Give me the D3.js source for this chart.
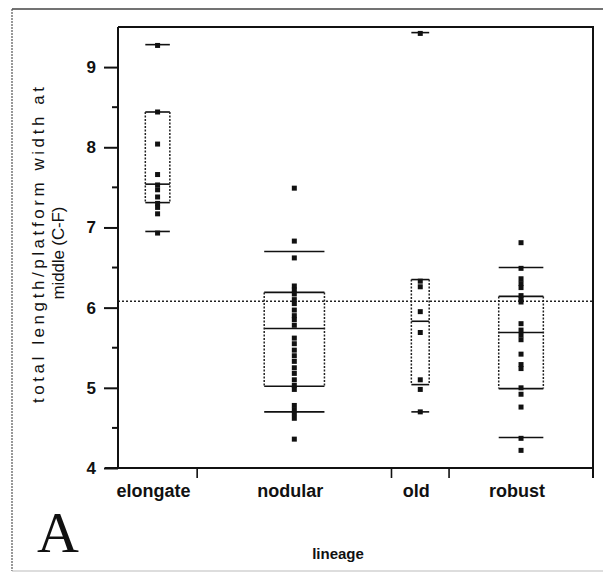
<!DOCTYPE html>
<html>
<head>
<meta charset="utf-8">
<script src="https://cdn.jsdelivr.net/npm/d3@7"></script>
<style>
  body { margin: 0; background: #fff; }
  text { font-family: "Liberation Sans", Arial, sans-serif; fill: #111; }
</style>
</head>
<body>
<div id="chart"></div>
<script>
const categories = ["elongate", "nodular", "old", "robust"]

// individual observations per lineage
const elongate = [9.27, 8.44, 8.04, 7.66, 7.53, 7.47, 7.38, 7.30, 7.25, 7.17, 6.93]
const nodular = [7.49, 6.83, 6.62, 6.27, 6.22, 6.17, 6.10, 6.05, 5.97, 5.90, 5.85, 5.78, 5.62, 5.55,
  5.47, 5.40, 5.33, 5.25, 5.18, 5.10, 5.03, 4.98, 4.78, 4.72, 4.68, 4.62, 4.36]
const old = [9.42, 6.33, 6.26, 5.95, 5.69, 5.10, 4.98, 4.70]
const robust = [6.81, 6.49, 6.36, 6.30, 6.25, 6.15, 6.10, 6.07, 5.80, 5.72, 5.66, 5.60, 5.42, 5.29,
  5.24, 5.00, 4.92, 4.76, 4.37, 4.22]

// quantile boxes
const q10 = [6.95, 4.70, 4.70, 4.38]
const q25 = [7.31, 5.02, 5.04, 4.99]
const medians = [7.54, 5.74, 5.83, 5.69]
const q75 = [8.44, 6.19, 6.35, 6.14]
const q90 = [9.28, 6.70, 9.43, 6.50]
const grandMean = 6.08

const yTicks = [4, 5, 6, 7, 8, 9]
const yMinorTicks = [4.5, 5.5, 6.5, 7.5, 8.5]

const series = [elongate, nodular, old, robust]

const width = 603, height = 573
const plot = { left: 118, right: 593, top: 27, bottom: 468 }

const svg = d3.select("#chart")
  .append("svg")
  .attr("width", width)
  .attr("height", height)

// outer panel frame
svg.append("line").attr("x1", 12).attr("x2", 603).attr("y1", 9).attr("y2", 9)
  .style("stroke", "#444").style("stroke-width", 1.5)
svg.append("line").attr("x1", 12).attr("x2", 12).attr("y1", 9).attr("y2", 571)
  .style("stroke", "#555").style("stroke-width", 1.2).style("stroke-dasharray", "2,1")
svg.append("line").attr("x1", 12).attr("x2", 603).attr("y1", 571).attr("y2", 571)
  .style("stroke", "#bbb").style("stroke-width", 1)

// x widths follow sample size
const counts = series.map(d => d.length)
const cum = [0]
counts.forEach(c => cum.push(cum[cum.length - 1] + c))

const x = d3.scaleLinear()
  .domain([0, d3.sum(counts)])
  .range([plot.left, plot.right])

const y = d3.scaleLinear()
  .domain([4, 9.5])
  .range([plot.bottom, plot.top])

const groups = categories.map((name, i) => {
  const x0 = x(cum[i]), x1 = x(cum[i + 1])
  const cx = (x0 + x1) / 2
  const bw = (x1 - x0) * 0.31
  return { name, i, x0, x1, cx, bw, values: series[i] }
})

// plot frame (top and right)
svg.append("path")
  .attr("d", `M${plot.left},${plot.top}H${plot.right}V${plot.bottom + 10}`)
  .style("fill", "none").style("stroke", "#111").style("stroke-width", 2)

// grand mean
svg.append("line")
  .attr("x1", plot.left).attr("x2", plot.right)
  .attr("y1", y(grandMean)).attr("y2", y(grandMean))
  .style("stroke", "#222").style("stroke-width", 1.5).style("stroke-dasharray", "2,2")

// y axis
const yAxis = svg.append("g")
  .attr("transform", `translate(${plot.left},0)`)
  .call(d3.axisLeft(y).tickValues(yTicks).tickSize(14).tickPadding(8).tickFormat(d3.format("d")))
yAxis.select(".domain").remove()
yAxis.selectAll(".tick line").style("stroke", "#111").style("stroke-width", 2)
yAxis.selectAll(".tick text").style("font-size", "17px").style("font-weight", "bold")
  .style("font-family", "'Liberation Sans', Arial, sans-serif").style("fill", "#111")

yAxis.selectAll(".minor")
  .data(yMinorTicks)
  .join("line")
  .attr("x1", -6).attr("x2", 0)
  .attr("y1", d => y(d)).attr("y2", d => y(d))
  .style("stroke", "#111").style("stroke-width", 2)

svg.append("line")
  .attr("x1", plot.left).attr("x2", plot.left)
  .attr("y1", plot.top).attr("y2", plot.bottom)
  .style("stroke", "#111").style("stroke-width", 2)

// x axis line and group boundary ticks
svg.append("line")
  .attr("x1", 105).attr("x2", plot.right)
  .attr("y1", plot.bottom).attr("y2", plot.bottom)
  .style("stroke", "#111").style("stroke-width", 2)

svg.selectAll(".xtick")
  .data(groups)
  .join("line")
  .attr("x1", d => d.x1).attr("x2", d => d.x1)
  .attr("y1", plot.bottom).attr("y2", plot.bottom + 10)
  .style("stroke", "#111").style("stroke-width", 1.6)

svg.selectAll(".xlabel")
  .data(groups)
  .join("text")
  .attr("x", d => d.cx - 4)
  .attr("y", 497)
  .attr("text-anchor", "middle")
  .style("font-size", "18px")
  .style("font-weight", "bold")
  .text(d => d.name)

// quantile boxes
const boxes = svg.append("g")
groups.forEach(g => {
  const i = g.i
  const l = g.cx - g.bw / 2, r = g.cx + g.bw / 2
  const solid = (ya) => boxes.append("line")
    .attr("x1", l).attr("x2", r).attr("y1", y(ya)).attr("y2", y(ya))
    .style("stroke", "#111").style("stroke-width", 1.6)
  solid(q25[i]); solid(q75[i]); solid(medians[i])
  solid(q10[i]); solid(q90[i])
  ;[l, r].forEach(xx => {
    boxes.append("line")
      .attr("x1", xx).attr("x2", xx)
      .attr("y1", y(q75[i])).attr("y2", y(q25[i]))
      .style("stroke", "#222").style("stroke-width", 1.5).style("stroke-dasharray", "2,1.5")
  })
})

// points
const ps = 5
svg.append("g")
  .selectAll("g")
  .data(groups)
  .join("g")
  .selectAll("rect")
  .data(g => g.values.map(v => ({ v, cx: g.cx })))
  .join("rect")
  .attr("x", d => d.cx - ps / 2)
  .attr("y", d => y(d.v) - ps / 2)
  .attr("width", ps)
  .attr("height", ps)
  .style("fill", "#111")

// axis titles
const yTitle = svg.append("g")
yTitle.append("text")
  .attr("transform", "translate(44,245) rotate(-90)")
  .attr("text-anchor", "middle")
  .attr("textLength", 316)
  .attr("lengthAdjust", "spacing")
  .style("font-size", "17px")
  .text("total length/platform width at")
yTitle.append("text")
  .attr("transform", "translate(64,253) rotate(-90)")
  .attr("text-anchor", "middle")
  .attr("textLength", 93)
  .attr("lengthAdjust", "spacing")
  .style("font-size", "17px")
  .text("middle (C-F)")

svg.append("text")
  .attr("x", 338).attr("y", 559)
  .attr("text-anchor", "middle")
  .style("font-size", "15px")
  .style("font-weight", "bold")
  .text("lineage")

svg.append("text")
  .attr("x", 37).attr("y", 552)
  .style("font-family", "'Liberation Serif', 'Times New Roman', serif")
  .style("font-size", "58px")
  .text("A")
</script>
</body>
</html>
